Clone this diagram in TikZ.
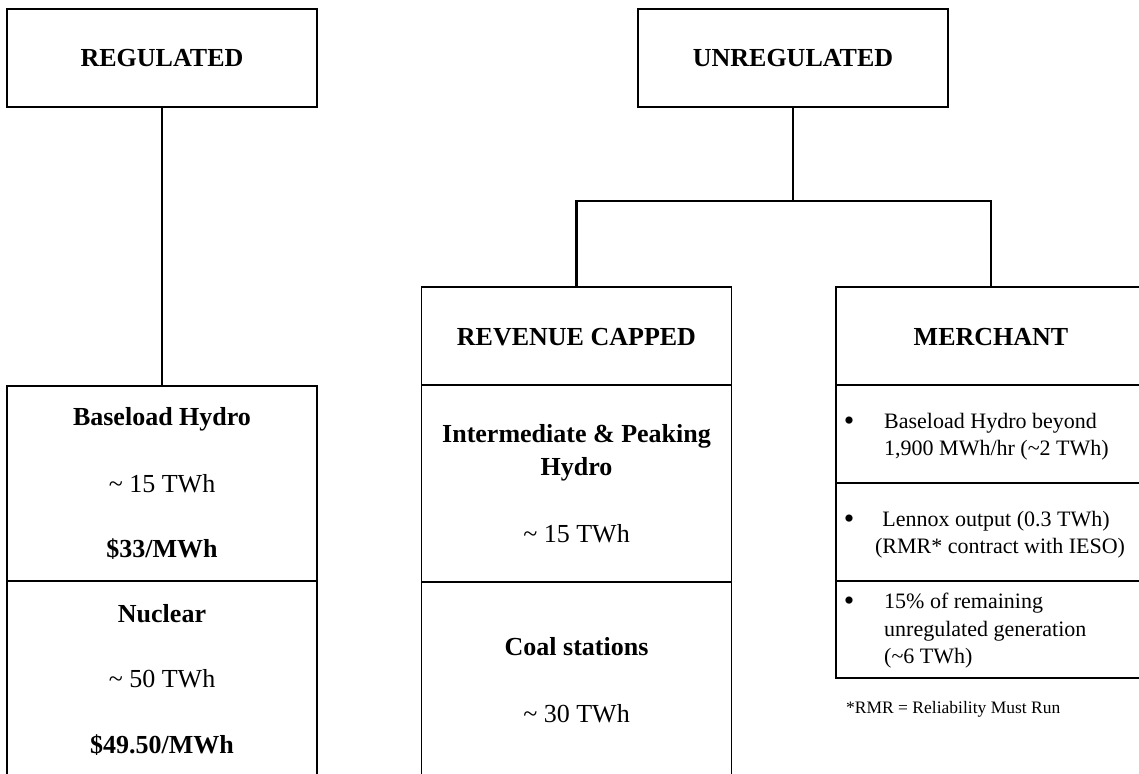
\documentclass[tikz,border=0pt]{standalone}
\usepackage{fontspec}
\setmainfont{Liberation Serif}
\begin{document}
\begin{tikzpicture}[x=1pt,y=-1pt,
  box/.style={draw, line width=1.3pt, minimum width=310pt, inner sep=0pt},
  conn/.style={line width=2.2pt, line join=miter},
  hdr/.style={anchor=base, inner sep=0pt, font=\fontsize{26}{31}\selectfont\bfseries},
  body/.style={anchor=base, inner sep=0pt, font=\fontsize{26}{31}\selectfont},
  item/.style={anchor=base west, inner sep=0pt, font=\fontsize{22}{27}\selectfont},
  itemc/.style={anchor=base, inner sep=0pt, font=\fontsize{22}{27}\selectfont},
  bul/.style={anchor=base, inner sep=0pt, font=\fontsize{30}{30}\selectfont},
  note/.style={anchor=base west, inner sep=0pt, font=\fontsize{17.5}{21}\selectfont}]
\useasboundingbox (0,0) rectangle (1139,773);
\clip (0,0) rectangle (1139,773);
% boxes
\node[box, minimum height=98pt] (reg) at (162,58) {};
\node[box, minimum height=195pt] (bh) at (162,483.5) {};
\node[box, minimum height=209pt] (nuc) at (162,685.5) {};
\node[box, minimum height=98pt] (unreg) at (793,58) {};
\node[box, minimum height=98pt] (rev) at (576.5,336) {};
\node[box, minimum height=197pt] (ip) at (576.5,483.5) {};
\node[box, minimum height=208pt] (coal) at (576.5,686) {};
\node[box, minimum height=98pt] (mer) at (991,336) {};
\node[box, minimum height=98pt] (m1) at (991,434) {};
\node[box, minimum height=98pt] (m2) at (991,532) {};
\node[box, minimum height=97pt] (m3) at (991,629.5) {};
% connectors
\coordinate (bus) at (793,201);
\draw[conn] (reg.south) -- (bh.north);
\draw[conn] (unreg.south) -- (bus);
\draw[conn] (rev.north) |- (bus) -| (mer.north);
% texts
\node[hdr] (treg) at (162,67) {REGULATED};
\node[hdr] (tunreg) at (793,67) {UNREGULATED};
\node[hdr] (tbh) at (162,425) {Baseload Hydro};
\node[body] (tbh2) at (162,492) {\textasciitilde{} 15 TWh};
\node[hdr] (tbh3) at (162,557) {\$33/MWh};
\node[hdr] (tnuc) at (162,622) {Nuclear};
\node[body] (tnuc2) at (162,687) {\textasciitilde{} 50 TWh};
\node[hdr] (tnuc3) at (162,753) {\$49.50/MWh};
\node[hdr] (trev) at (576.5,345) {REVENUE CAPPED};
\node[hdr] (tip1) at (576.5,442) {Intermediate \& Peaking};
\node[hdr] (tip2) at (576.5,475) {Hydro};
\node[body] (tip3) at (576.5,542) {\textasciitilde{} 15 TWh};
\node[hdr] (tcoal) at (576.5,655) {Coal stations};
\node[body] (tcoal2) at (576.5,722) {\textasciitilde{} 30 TWh};
\node[hdr] (tmer) at (991,345) {MERCHANT};
\node[bul] (b1) at (849,430) {\textbullet};
\node[item] (m1a) at (884,428) {Baseload Hydro beyond};
\node[item] (m1b) at (884,455) {1,900 MWh/hr (\textasciitilde2 TWh)};
\node[bul] (b2) at (849,528) {\textbullet};
\node[itemc] (m2a) at (996,526) {Lennox output (0.3 TWh)};
\node[itemc] (m2b) at (1000,553) {(RMR* contract with IESO)};
\node[bul] (b3) at (849,610) {\textbullet};
\node[item] (m3a) at (884,608) {15\% of remaining};
\node[item] (m3b) at (884,636) {unregulated generation};
\node[item] (m3c) at (884,663) {(\textasciitilde6 TWh)};
\node[note] (fn) at (846,713) {*RMR = Reliability Must Run};
\end{tikzpicture}
\end{document}
